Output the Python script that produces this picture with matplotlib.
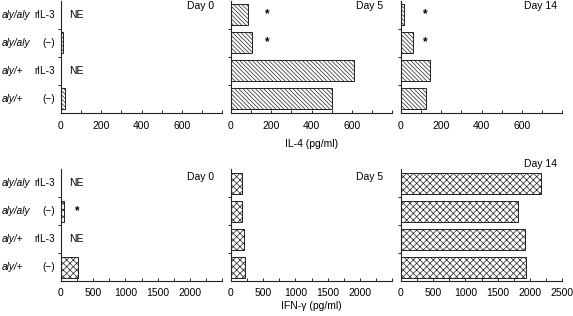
import matplotlib
matplotlib.use("Agg")
import matplotlib.pyplot as plt
import matplotlib.transforms as mtransforms
import numpy as np

plt.rcParams["font.family"] = ["Liberation Sans", "DejaVu Sans"]
plt.rcParams["font.size"] = 7
plt.rcParams["hatch.linewidth"] = 0.5
plt.rcParams["hatch.color"] = "#333333"

genotypes = ["aly/aly", "aly/aly", "aly/+", "aly/+"]
treatments = ["rIL-3", "(\u2212)", "rIL-3", "(\u2212)"]
days = ["Day 0", "Day 5", "Day 14"]

# IL-4 (pg/ml); None = not examined
il4 = [
    [None, 10, None, 22],
    [85, 105, 610, 500],
    [17, 62, 146, 126],
]
il4_stars = [[], [0, 1], [0, 1]]
il4_star_x = [0, 180, 120]

# IFN-gamma (pg/ml)
ifn = [
    [None, 42, None, 260],
    [175, 172, 195, 225],
    [2170, 1815, 1930, 1940],
]
ifn_stars = [[1], [], []]
ifn_star_x = [250, 0, 0]

fig = plt.figure(figsize=(5.73, 3.16), dpi=100)

lefts = [61 / 573, 231 / 573, 401 / 573]
width = 161 / 573
rows = [
    dict(bottom=1 - 112.5 / 316, data=il4, stars=il4_stars, sx=il4_star_x,
         xlim=800, major=[0, 200, 400, 600], minor=100, hatch="\\" * 8,
         xlabel="IL-4 (pg/ml)", labelpad=6, tickpad=6,
         daypos=[(0.95, 0.955), (0.944, 0.955), (0.967, 0.955)]),
    dict(bottom=1 - 281 / 316, data=ifn, stars=ifn_stars, sx=ifn_star_x,
         xlim=2500, major=[0, 500, 1000, 1500, 2000], minor=250, hatch="x" * 5,
         xlabel="IFN-\u03b3 (pg/ml)", labelpad=2.5, tickpad=5,
         daypos=[(0.95, 0.93), (0.944, 0.925), (0.967, 1.045)]),
]
height = 112 / 316

for r, row in enumerate(rows):
    for d in range(3):
        ax = fig.add_axes([lefts[d], row["bottom"], width, height])
        vals = row["data"][d]
        for i, v in enumerate(vals):
            if v is None:
                ax.text(0.05, i, "NE", transform=mtransforms.blended_transform_factory(ax.transAxes, ax.transData),
                        ha="left", va="center", fontsize=7.5)
            else:
                ax.barh(i, v, height=0.75, color="white", edgecolor="#222222",
                        linewidth=0.7, hatch=row["hatch"])
        for i in row["stars"][d]:
            ax.text(row["sx"][d], i, "*", ha="center", va="center", fontsize=8.5, fontweight="bold")
        ax.set_xlim(0, row["xlim"])
        ax.set_ylim(3.5, -0.5)
        majors = list(row["major"])
        if d == 2 and r == 1:
            majors = majors + [2500]
        ax.set_xticks(majors)
        ax.set_xticks(np.arange(0, row["xlim"] + 1, row["minor"]), minor=True)
        ax.set_yticks([0.5, 1.5, 2.5])
        ax.set_yticklabels([])
        ax.tick_params(axis="x", which="both", direction="in", length=2.5, width=0.6,
                       pad=row["tickpad"], labelsize=7.5)
        ax.tick_params(axis="y", which="both", direction="out", length=2, width=0.6)
        for s in ["top", "right"]:
            ax.spines[s].set_visible(False)
        for s in ["left", "bottom"]:
            ax.spines[s].set_linewidth(0.8)
            ax.spines[s].set_color("#222222")
        ax.text(row["daypos"][d][0], row["daypos"][d][1], days[d], transform=ax.transAxes,
                ha="right", va="center", fontsize=7.5)
        if d == 0:
            tr = mtransforms.blended_transform_factory(fig.transFigure, ax.transData)
            for i in range(4):
                fig.text(2 / 573, i, genotypes[i], transform=tr, ha="left", va="center",
                         style="italic", fontsize=7.2)
                fig.text(55 / 573, i, treatments[i], transform=tr, ha="right", va="center",
                         fontsize=7.2)
        if d == 1:
            ax.set_xlabel(row["xlabel"], fontsize=7.5, labelpad=row["labelpad"])

fig.savefig("out.png", dpi=100)
